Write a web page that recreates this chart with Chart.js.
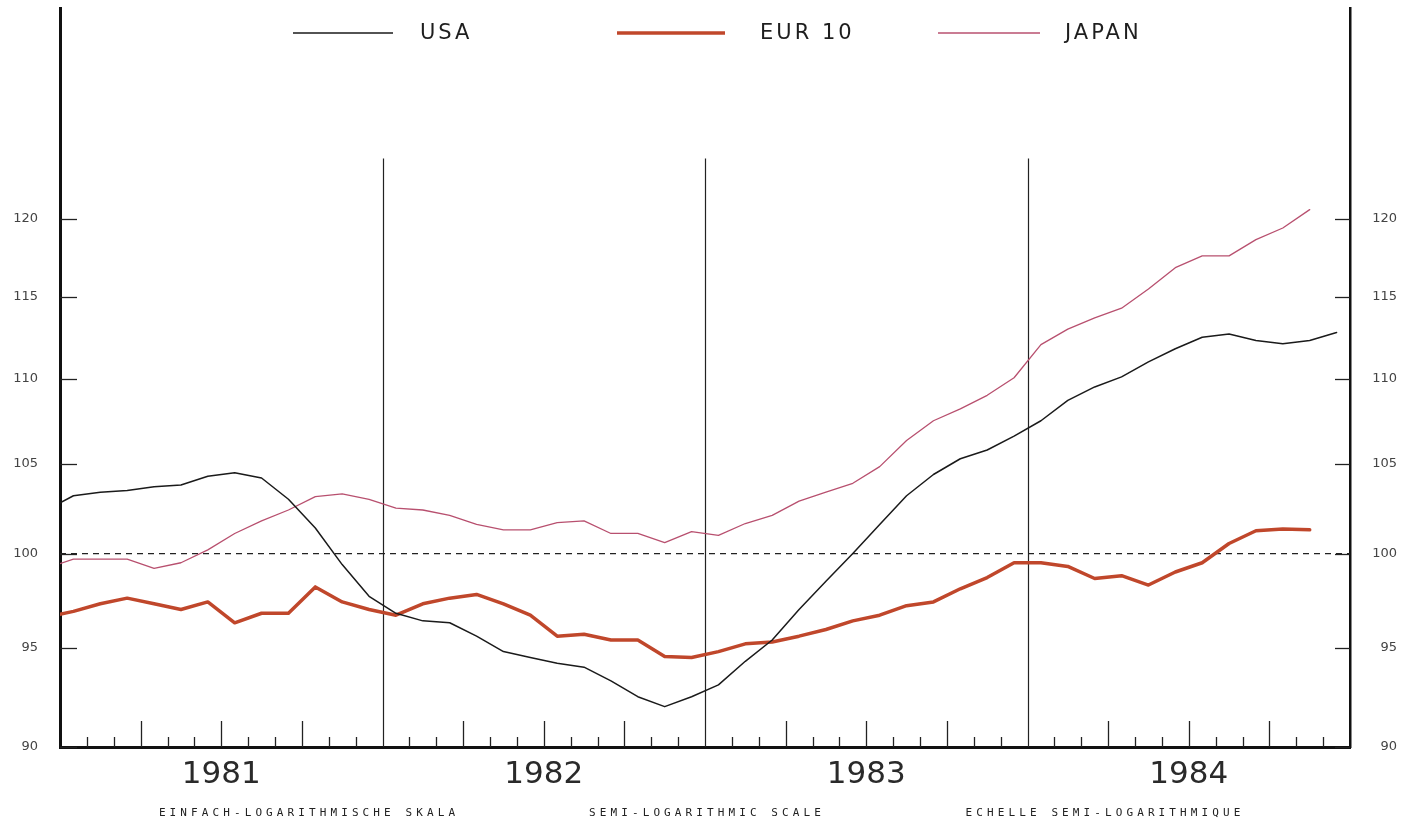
<!DOCTYPE html>
<html>
<head>
<meta charset="utf-8">
<script src="https://cdn.jsdelivr.net/npm/chart.js@4/dist/chart.umd.min.js"></script>
<style>
  html, body { margin: 0; padding: 0; background: #ffffff; }
  #c { display: block; }
</style>
</head>
<body>
<canvas id="c" width="1403" height="821"></canvas>
<script>
// ---- Data (monthly, Dec 1980 .. Dec 1984) ----
const firstYear = 1980;      // first value is December 1980
const years = ['1981', '1982', '1983', '1984'];
const yTicks = [90, 95, 100, 105, 110, 115, 120];

const usa = [102.4,
  103.2, 103.4, 103.5, 103.7, 103.8, 104.3, 104.5, 104.2, 103.0, 101.4, 99.4, 97.7,
  96.8, 96.4, 96.3, 95.6, 94.8, 94.5, 94.2, 94.0, 93.3, 92.5, 92.0, 92.5,
  93.1, 94.3, 95.4, 97.0, 98.5, 100.0, 101.6, 103.2, 104.4, 105.3, 105.8, 106.6,
  107.5, 108.7, 109.5, 110.1, 111.0, 111.8, 112.5, 112.7, 112.3, 112.1, 112.3, 112.8];

const eur10 = [96.6,
  96.9, 97.3, 97.6, 97.3, 97.0, 97.4, 96.3, 96.8, 96.8, 98.2, 97.4, 97.0,
  96.7, 97.3, 97.6, 97.8, 97.3, 96.7, 95.6, 95.7, 95.4, 95.4, 94.55, 94.5,
  94.8, 95.2, 95.3, 95.6, 95.95, 96.4, 96.7, 97.2, 97.4, 98.1, 98.7, 99.5,
  99.5, 99.3, 98.65, 98.8, 98.3, 99.0, 99.5, 100.55, 101.25, 101.35, 101.3, null];

const japan = [99.2,
  99.7, 99.7, 99.7, 99.2, 99.5, 100.2, 101.1, 101.8, 102.4, 103.15, 103.3, 103.0,
  102.5, 102.4, 102.1, 101.6, 101.3, 101.3, 101.7, 101.8, 101.1, 101.1, 100.6, 101.2,
  101.0, 101.65, 102.1, 102.9, 103.4, 103.9, 104.85, 106.35, 107.5, 108.2, 109.0, 110.05,
  112.05, 113.0, 113.7, 114.3, 115.5, 116.85, 117.6, 117.6, 118.65, 119.4, 120.6, null];

const subtitles = ['EINFACH-LOGARITHMISCHE SKALA', 'SEMI-LOGARITHMIC SCALE', 'ECHELLE SEMI-LOGARITHMIQUE'];

// month labels (Dec 1980 first)
const monthLabels = usa.map((_, i) => {
  const m = (11 + i) % 12 + 1;
  const y = firstYear + Math.floor((11 + i) / 12);
  return y + '-' + String(m).padStart(2, '0');
});

// each monthly value sits at the middle of its month; x unit = months since Jan 1981
function toPoints(arr) {
  return arr.map((v, i) => ({ x: i - 0.5, y: v, label: monthLabels[i] }));
}

const refLevel = 100;
const yearLineTop = 124;
const yMin = 90, yMax = 134.6;

const framePlugin = {
  id: 'frame',
  beforeDatasetsDraw(chart) {
    const { ctx, chartArea: a, scales } = chart;
    const xs = scales.x, ys = scales.y;
    ctx.save();
    ctx.strokeStyle = '#222';
    // dashed reference line at 100
    ctx.lineWidth = 1.2;
    ctx.setLineDash([6, 5]);
    const yr = ys.getPixelForValue(refLevel);
    ctx.beginPath(); ctx.moveTo(a.left, yr); ctx.lineTo(a.right, yr); ctx.stroke();
    ctx.setLineDash([]);
    // year separators
    ctx.lineWidth = 1.2;
    const yt = ys.getPixelForValue(yearLineTop);
    for (let m = 12; m < 48; m += 12) {
      const x = Math.round(xs.getPixelForValue(m)) + 0.5;
      ctx.beginPath(); ctx.moveTo(x, yt); ctx.lineTo(x, a.bottom); ctx.stroke();
    }
    // month / quarter ticks (inward)
    ctx.lineWidth = 1.3;
    for (let m = 1; m < 48; m++) {
      if (m % 12 === 0) continue;
      const len = (m % 3 === 0) ? 26 : 10;
      const x = Math.round(xs.getPixelForValue(m)) + 0.5;
      ctx.beginPath(); ctx.moveTo(x, a.bottom); ctx.lineTo(x, a.bottom - len); ctx.stroke();
    }
    // y ticks (inward) left and right
    yTicks.forEach(v => {
      const y = Math.round(ys.getPixelForValue(v)) + 0.5;
      ctx.beginPath(); ctx.moveTo(a.left, y); ctx.lineTo(a.left + 17, y); ctx.stroke();
      ctx.beginPath(); ctx.moveTo(a.right - 15, y); ctx.lineTo(a.right, y); ctx.stroke();
    });
    ctx.restore();
  },
  afterDraw(chart) {
    const { ctx, chartArea: a } = chart;
    ctx.save();
    // legend
    const legendY = 33;
    const layout = [
      { x0: 293, x1: 393, tx: 420 },
      { x0: 617, x1: 725, tx: 760 },
      { x0: 938, x1: 1040, tx: 1065 }
    ];
    chart.data.datasets.forEach((ds, i) => {
      const L = layout[i];
      ctx.strokeStyle = ds.borderColor;
      ctx.lineWidth = ds.borderWidth;
      ctx.beginPath(); ctx.moveTo(L.x0, legendY); ctx.lineTo(L.x1, legendY); ctx.stroke();
      ctx.fillStyle = '#1e1e1e';
      ctx.font = '21px "DejaVu Sans"';
      ctx.letterSpacing = '3px';
      ctx.textBaseline = 'middle';
      ctx.textAlign = 'left';
      ctx.fillText(ds.label, L.tx, legendY + 1);
    });
    // trilingual scale note
    ctx.font = '11px "DejaVu Sans Mono"';
    ctx.letterSpacing = '4.1px';
    ctx.fillStyle = '#222';
    ctx.textAlign = 'center';
    ctx.textBaseline = 'middle';
    const cx = (a.left + a.right) / 2;
    const offs = [-398, 0, 398];
    subtitles.forEach((t, i) => ctx.fillText(t, cx + offs[i] + 2, 813));
    ctx.restore();
  }
};

const axisFont = { family: 'DejaVu Sans', size: 13 };
function noPad(s) { s.paddingTop = 0; s.paddingBottom = 0; }

new Chart(document.getElementById('c'), {
  type: 'line',
  data: {
    datasets: [
      { label: 'USA', data: toPoints(usa), borderColor: '#1a1a1a', borderWidth: 1.5 },
      { label: 'EUR 10', data: toPoints(eur10), borderColor: '#c0472b', borderWidth: 3.5 },
      { label: 'JAPAN', data: toPoints(japan), borderColor: '#b8506f', borderWidth: 1.3 }
    ]
  },
  options: {
    responsive: false,
    animation: false,
    devicePixelRatio: 1,
    layout: { autoPadding: false, padding: { top: 8, right: 6, left: 0, bottom: 0 } },
    elements: {
      point: { radius: 0, hoverRadius: 0 },
      line: { tension: 0, borderJoinStyle: 'round', borderCapStyle: 'round' }
    },
    plugins: { legend: { display: false }, tooltip: { enabled: false } },
    scales: {
      x: {
        type: 'linear', min: 0, max: 48,
        grid: { display: false, drawTicks: false },
        border: { display: true, width: 3, color: '#111' },
        afterBuildTicks: s => { s.ticks = years.map((y, i) => ({ value: 12 * i + 6 })); },
        ticks: {
          autoSkip: false, maxRotation: 0, padding: 9, color: '#2a2a2a',
          font: { family: 'DejaVu Sans', size: 31 },
          callback: v => years[Math.floor(v / 12)]
        },
        afterFit: s => { s.height = 74; s.paddingLeft = 0; s.paddingRight = 0; }
      },
      y: {
        type: 'logarithmic', position: 'left', min: yMin, max: yMax,
        grid: { display: false, drawTicks: false },
        border: { display: true, width: 3, color: '#111' },
        afterBuildTicks: s => { s.ticks = yTicks.map(v => ({ value: v })); },
        ticks: { padding: 22, color: '#444', font: axisFont, callback: v => String(v) },
        afterFit: s => { s.width = 60; noPad(s); }
      },
      y2: {
        type: 'logarithmic', position: 'right', min: yMin, max: yMax, display: true,
        grid: { display: false, drawTicks: false },
        border: { display: true, width: 2.5, color: '#111' },
        afterBuildTicks: s => { s.ticks = yTicks.map(v => ({ value: v })); },
        ticks: { crossAlign: 'far', padding: 10, color: '#444', font: axisFont, callback: v => String(v) },
        afterFit: s => { s.width = 47; noPad(s); }
      }
    }
  },
  plugins: [framePlugin]
});
</script>
</body>
</html>
